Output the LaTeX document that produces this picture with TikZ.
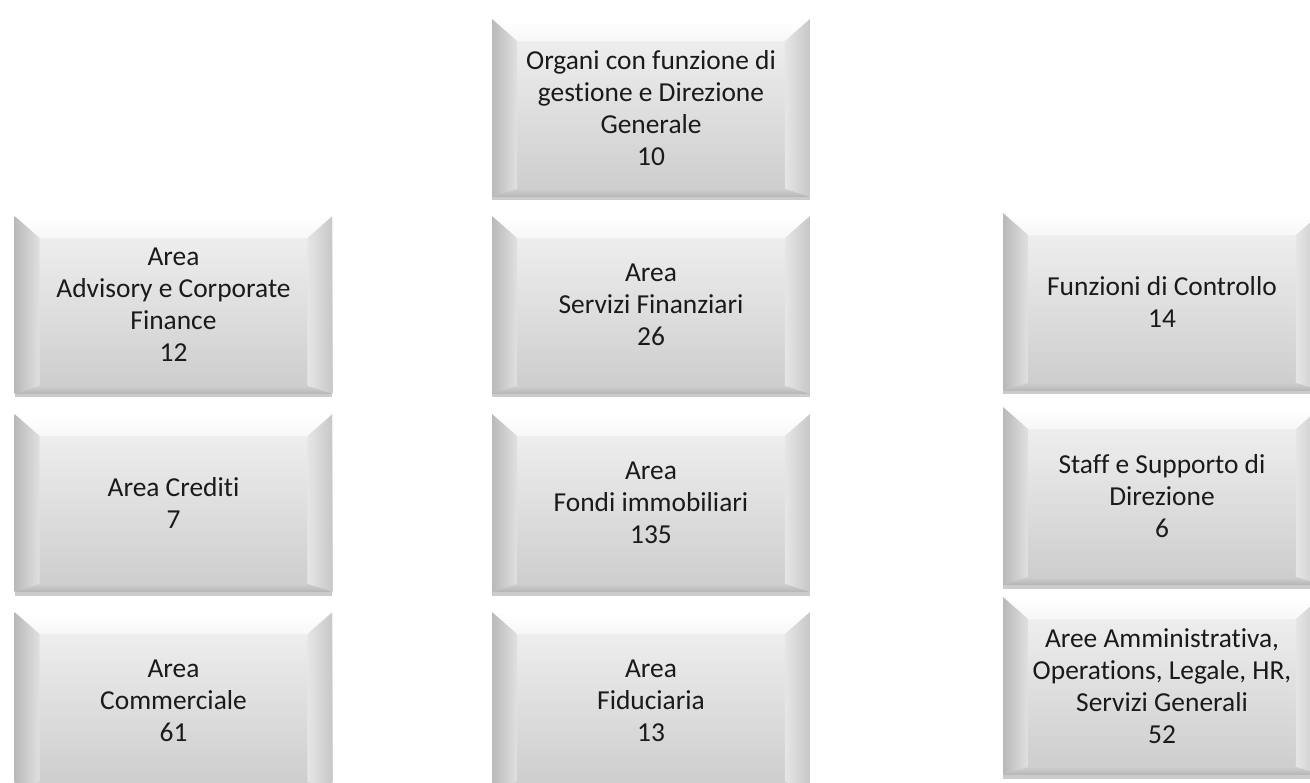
\documentclass[tikz,border=0pt]{standalone}
\usepackage{fontspec}
\setmainfont[Ligatures={NoCommon}]{Carlito}
\usetikzlibrary{shadows}
\definecolor{txt}{HTML}{1A1A1A}
\tikzset{
  bevelbox/.style={
    rectangle, inner sep=0pt, outer sep=0pt,
    minimum width=6.36cm, minimum height=3.56cm,
    align=center, text=txt,
    font=\fontsize{15.6}{18.2}\selectfont,
    drop shadow={shadow xshift=0pt, shadow yshift=-2pt, fill=black!45, opacity=0.45},
    fill=gray!20,
    path picture={
      \path (path picture bounding box.north west) coordinate (NW)
            (path picture bounding box.north east) coordinate (NE)
            (path picture bounding box.south west) coordinate (SW)
            (path picture bounding box.south east) coordinate (SE);
      \path ([shift={(0.5cm,-0.44cm)}]NW) coordinate (iNW)
            ([shift={(-0.5cm,-0.44cm)}]NE) coordinate (iNE)
            ([shift={(0.5cm,0.16cm)}]SW) coordinate (iSW)
            ([shift={(-0.5cm,0.16cm)}]SE) coordinate (iSE);
      \shade[top color=gray!10, bottom color=gray!40] (NW) rectangle (SE);
      \shade[top color=white, bottom color=gray!6] (NW) -- (NE) -- (iNE) -- (iNW) -- cycle;
      \shade[left color=gray!55, right color=gray!24] (NW) -- (iNW) -- (iSW) -- (SW) -- cycle;
      \shade[left color=gray!20, right color=gray!44] (NE) -- (SE) -- (iSE) -- (iNE) -- cycle;
      \shade[top color=gray!38, bottom color=gray!58] (SW) -- (iSW) -- (iSE) -- (SE) -- cycle;
    }
  }
}
\begin{document}
\begin{tikzpicture}[x=0.02cm, y=-0.02cm]
\useasboundingbox (0,0) rectangle (1310,783);
\clip (0,0) rectangle (1310,783);
\fill[white] (0,0) rectangle (1310,783);
% middle column
\node[bevelbox] (org) at (651,108) {Organi con funzione di\\gestione e Direzione\\Generale\\10};
\node[bevelbox] (sfin) at (651,305) {Area\\Servizi Finanziari\\26};
\node[bevelbox] (fondi) at (651,503) {Area\\Fondi immobiliari\\135};
\node[bevelbox] (fid) at (651,701) {Area\\Fiduciaria\\13};
% left column
\node[bevelbox] (adv) at (173.5,305) {Area\\Advisory e Corporate\\Finance\\12};
\node[bevelbox] (cred) at (173.5,503) {Area Crediti\\7};
\node[bevelbox] (comm) at (173.5,701) {Area\\Commerciale\\61};
% right column
\node[bevelbox] (ctrl) at (1162,302) {Funzioni di Controllo\\14};
\node[bevelbox] (staff) at (1162,496) {Staff e Supporto di\\Direzione\\6};
\node[bevelbox] (amm) at (1162,686) {Aree Amministrativa,\\Operations, Legale, HR,\\Servizi Generali\\52};
\end{tikzpicture}
\end{document}
